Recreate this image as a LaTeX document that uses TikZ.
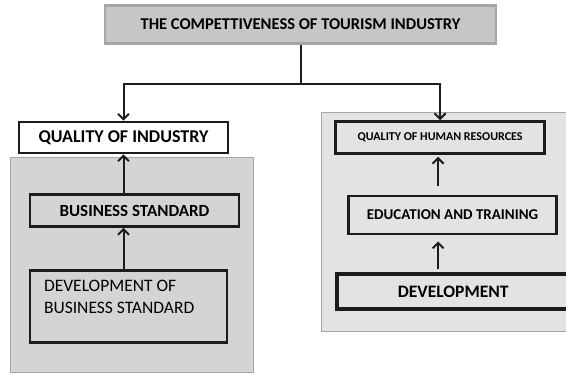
\documentclass[tikz,border=0pt]{standalone}
\usepackage{fontspec}
\setmainfont{Carlito}
\usetikzlibrary{arrows.meta,backgrounds,fit,positioning}
\definecolor{headgray}{HTML}{C6C6C8}
\definecolor{edgegray}{HTML}{A5A5A7}
\definecolor{panelgray}{HTML}{D4D4D6}
\definecolor{lightpanel}{HTML}{E3E3E5}
\definecolor{inkblack}{HTML}{1C1C1C}
\tikzset{
  headbox/.style={
    draw=edgegray,
    fill=headgray,
    line width=2.8pt,
    minimum width=391pt,
    minimum height=38pt,
    inner sep=0pt,
    font=\fontsize{16.5}{19}\selectfont\bfseries
  },
  levelbox/.style={
    draw=inkblack,
    line width=2.6pt,
    inner sep=0pt,
    align=center,
    minimum width=209pt,
    minimum height=32pt,
    font=\fontsize{17}{20}\selectfont\bfseries
  },
  topbox/.style={
    levelbox,
    fill=white,
    minimum height=31pt,
    font=\fontsize{18}{21}\selectfont\bfseries
  },
  panelbox/.style={
    draw=edgegray,
    line width=0.8pt,
    inner sep=0pt
  },
  flowarrow/.style={
    -{Straight Barb[length=5.5pt,width=11pt]},
    line width=2pt,
    draw=inkblack
  }
}

\begin{document}
\begin{tikzpicture}[x=1pt,y=1pt]
    \useasboundingbox (0,0) rectangle (566,-373);
    \clip (0,0) rectangle (566,-373);

    \node[headbox] (title) at (300.5,-24.5) {THE COMPETTIVENESS OF TOURISM INDUSTRY};

    % left column
    \node[topbox] (quality) at (123.5,-137.5) {QUALITY OF INDUSTRY};
    \node[levelbox, below=39pt of quality.south west, anchor=north west, xshift=11pt] (standard) {BUSINESS STANDARD};
    \node[levelbox, below=41pt of standard.south west, anchor=north west,
          minimum width=197pt, minimum height=72pt,
          font=\fontsize{17.5}{22}\selectfont] (devstandard)
        {\begin{tabular}{@{}p{169pt}@{}}DEVELOPMENT OF\\BUSINESS STANDARD\\[17pt]\end{tabular}};

    % right column
    \node[levelbox, right=105pt of quality, font=\fontsize{12}{14}\selectfont\bfseries] (human) {QUALITY OF HUMAN RESOURCES};
    \node[levelbox, below=40pt of human.south west, anchor=north west, xshift=13pt,
          minimum width=208pt, minimum height=38pt,
          font=\fontsize{15}{18}\selectfont\bfseries] (education) {EDUCATION AND TRAINING};
    \node[levelbox, below=37pt of education.south west, anchor=north west, xshift=-12pt,
          line width=3.8pt, minimum width=232pt, minimum height=35pt,
          font=\fontsize{17.5}{20}\selectfont\bfseries] (development) {DEVELOPMENT};

    \coordinate[below=39pt of title.south] (split);
    \draw[line width=2pt, draw=inkblack] (title.south) -- (split);
    \draw[flowarrow] (split) -| (quality.north);
    \draw[flowarrow] (split) -| (human.north);

    \draw[flowarrow] (standard.north -| quality.south) -- (quality.south);
    \draw[flowarrow] (devstandard.north -| quality.south) -- (standard.south -| quality.south);
    \draw[flowarrow, shorten <=9pt, shorten >=2pt] ([xshift=-2pt]education.north -| human.south) -- ([xshift=-2pt]human.south);
    \draw[flowarrow, shorten <=3pt, shorten >=6pt] ([xshift=-2pt]development.north -| human.south) -- ([xshift=-2pt]education.south -| human.south);

    \begin{scope}[on background layer]
        \node[panelbox, fill=panelgray, fit={(10,-157) (253,-372)}] (leftpanel) {};
        \node[panelbox, fill=lightpanel, fit={(321,-112) (580,-331)}] (rightpanel) {};
    \end{scope}
\end{tikzpicture}
\end{document}
